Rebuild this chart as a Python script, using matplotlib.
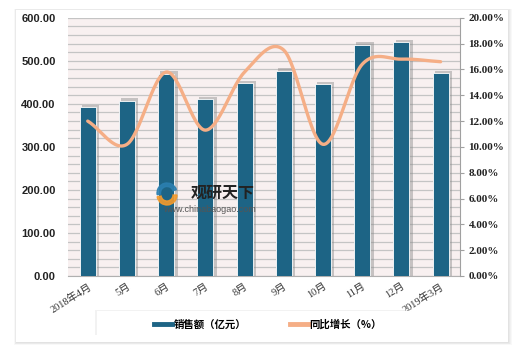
import numpy as np
import matplotlib
matplotlib.use("Agg")
import matplotlib.pyplot as plt
from matplotlib.patches import Rectangle, Wedge
from matplotlib.lines import Line2D

# 数据
months = ["2018年4月", "5月", "6月", "7月", "8月", "9月", "10月", "11月", "12月", "2019年3月"]
sales = [392, 407, 470, 411, 448, 477, 446, 537, 543, 471]          # 销售额（亿元）
growth = [12.0, 10.2, 15.8, 11.3, 15.8, 17.5, 10.2, 16.4, 16.8, 16.6]  # 同比增长（%）
left_ticks = [0, 100, 200, 300, 400, 500, 600]
right_ticks = [0, 2, 4, 6, 8, 10, 12, 14, 16, 18, 20]

bar_color = "#1d6485"
line_color = "#f5ae86"
cjk = ["Noto Sans CJK SC", "DejaVu Sans"]
serif_cjk = ["Liberation Serif", "Noto Sans CJK SC"]


def catmull_rom(xs, ys, n=30):
    # 平滑曲线（类似 Excel 的平滑线）
    xs = np.asarray(xs, float)
    ys = np.asarray(ys, float)
    px = np.concatenate([[2 * xs[0] - xs[1]], xs, [2 * xs[-1] - xs[-2]]])
    py = np.concatenate([[2 * ys[0] - ys[1]], ys, [2 * ys[-1] - ys[-2]]])
    outx, outy = [], []
    t = np.linspace(0, 1, n)
    for i in range(1, len(px) - 2):
        for p, out in ((px, outx), (py, outy)):
            p0, p1, p2, p3 = p[i - 1], p[i], p[i + 1], p[i + 2]
            m1 = (p2 - p0) / 2
            m2 = (p3 - p1) / 2
            h00 = 2 * t**3 - 3 * t**2 + 1
            h10 = t**3 - 2 * t**2 + t
            h01 = -2 * t**3 + 3 * t**2
            h11 = t**3 - t**2
            out.extend(h00 * p1 + h10 * m1 + h01 * p2 + h11 * m2)
    return np.array(outx), np.array(outy)


fig = plt.figure(figsize=(5.2, 3.57), dpi=100)
fig.patch.set_facecolor("white")

# 外框阴影与白色面板
for k, a in enumerate([0.05, 0.05, 0.06, 0.07]):
    d = (4 - k) / 520
    fig.add_artist(Rectangle((0.031 - d * 0.5, 0.042 - d * 1.2), 0.946 + d * 1.6, 0.930 + d * 1.6,
                             transform=fig.transFigure, facecolor="#808080", alpha=a,
                             edgecolor="none", zorder=-3))
fig.add_artist(Rectangle((0.031, 0.042), 0.946, 0.930, transform=fig.transFigure,
                         facecolor="white", edgecolor="none", zorder=-2))

ax = fig.add_axes([0.131, 0.227, 0.754, 0.723])
ax.set_facecolor("#f8f0f0")
x = np.arange(len(months))

# 柱子阴影
ax.bar(x + 0.07, np.array(sales) + 6, width=0.44, color="#8a8a8a", alpha=0.45, zorder=2)
ax.bar(x, sales, width=0.41, color=bar_color, edgecolor="white", linewidth=0.6, zorder=3)

ax.set_xlim(-0.5, 9.5)
ax.set_ylim(0, 600)
ax.set_yticks(left_ticks)
ax.set_yticklabels([f"{v:.2f}" for v in left_ticks], fontsize=8, fontweight="bold",
                   family=["Liberation Sans"], color="#222222")
ax.set_yticks(np.arange(0, 601, 20), minor=True)
ax.grid(True, axis="y", which="both", color="#c4c4c4", linewidth=0.9, zorder=0)
ax.set_axisbelow(True)
ax.tick_params(axis="y", which="both", length=0, pad=9)
ax.set_xticks(x)
ax.set_xticklabels(months, rotation=32, ha="right", va="top", rotation_mode="anchor",
                   fontsize=7.5, family=serif_cjk, color="#333333")
ax.tick_params(axis="x", length=0, pad=4)
for s in ["top", "left", "right"]:
    ax.spines[s].set_visible(False)
ax.spines["bottom"].set_color("#b0b0b0")

ax2 = ax.twinx()
ax2.patch.set_visible(False)
sx, sy = catmull_rom(x, growth)
ax2.plot(sx, sy, color=line_color, linewidth=2.4, solid_capstyle="round", zorder=4)
ax2.set_ylim(0, 20)
ax2.set_yticks(right_ticks)
ax2.set_yticklabels([f"{v:.2f}%" for v in right_ticks], fontsize=8, fontweight="bold",
                    family=["Liberation Serif"], color="#222222")
ax2.tick_params(axis="y", length=3, color="#a0a0a0", pad=3)
for s in ["top", "left", "bottom"]:
    ax2.spines[s].set_visible(False)
ax2.spines["right"].set_color("#a0a0a0")

# 水印
fig.add_artist(Wedge((1.67, 1.64), 0.10, 20, 190, width=0.035, color="#2b7fb0",
                     transform=fig.dpi_scale_trans, zorder=6, alpha=0.9))
fig.add_artist(Wedge((1.67, 1.62), 0.10, 190, 360, width=0.04, color="#f39a2c",
                     transform=fig.dpi_scale_trans, zorder=6, alpha=0.9))
fig.text(0.428, 0.459, "观研天下", fontsize=11.5, fontweight="bold", family=cjk,
         ha="center", va="center", color="#222222", zorder=6)
fig.text(0.403, 0.414, "www.chinabaogao.com", fontsize=6.5, family=["Liberation Sans"],
         ha="center", va="center", color="#555555", zorder=6)

# 图例
fig.add_artist(Rectangle((0.183, 0.062), 0.60, 0.070, transform=fig.transFigure,
                         facecolor="#9a9a9a", alpha=0.12, edgecolor="none", zorder=1))
fig.add_artist(Rectangle((0.187, 0.058), 0.60, 0.070, transform=fig.transFigure,
                         facecolor="white", edgecolor="none", zorder=1.5))
handles = [Line2D([], [], color=bar_color, linewidth=3.5),
           Line2D([], [], color=line_color, linewidth=3.5)]
fig.legend(handles, ["销售额（亿元）", "同比增长（%）"], loc="center",
           bbox_to_anchor=(0.515, 0.092), ncol=2, frameon=False, handlelength=1.8,
           handletextpad=0.1, columnspacing=4.2,
           prop={"family": cjk, "size": 7.5, "weight": "bold"})

fig.savefig("out.png", dpi=100, facecolor=fig.get_facecolor())
